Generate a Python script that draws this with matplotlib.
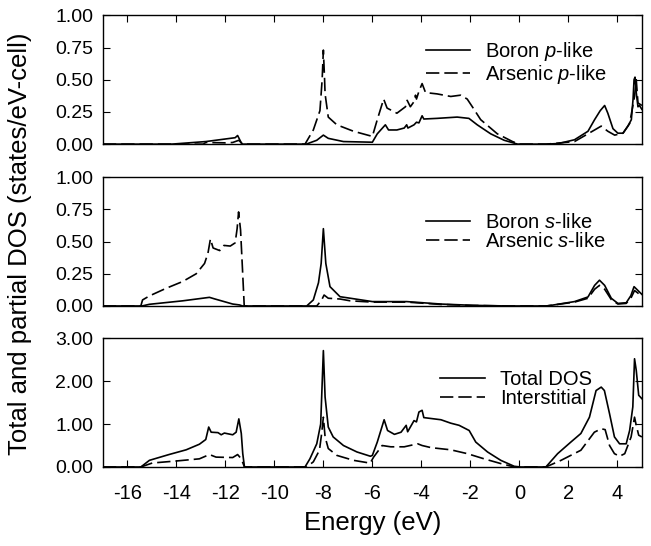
import matplotlib
matplotlib.use('Agg')
import matplotlib.pyplot as plt

plt.rcParams['font.family'] = ['Liberation Sans', 'DejaVu Sans']
plt.rcParams['mathtext.fontset'] = 'custom'
plt.rcParams['mathtext.rm'] = 'Liberation Sans'
plt.rcParams['mathtext.it'] = 'Liberation Sans:italic'

# ---- data (energy in eV, DOS in states/eV-cell) ----
e_bp = [-17, -14.2, -12.8, -12.0, -11.6, -11.5, -11.35, -11.3, -8.7, -8.27, -8.0, -7.8, -7.18,
        -6.0, -5.8, -5.47, -5.34, -5.0, -4.7, -4.6, -4.55, -4.3, -4.2, -4.1, -3.97, -3.9, -3.36,
        -2.54, -2.06, -1.72, -1.17, -0.62, -0.07, 1.1, 1.6, 2.25, 2.8, 3.07, 3.3, 3.48, 3.61,
        3.82, 4.02, 4.23, 4.43, 4.57, 4.64, 4.68, 4.72, 4.77, 4.84, 4.9, 5.0]
boron_p = [0, 0, 0.02, 0.04, 0.05, 0.067, 0.01, 0, 0, 0.03, 0.07, 0.045, 0.02,
           0.015, 0.08, 0.15, 0.11, 0.11, 0.125, 0.15, 0.125, 0.15, 0.17, 0.165, 0.22, 0.195, 0.2,
           0.21, 0.2, 0.15, 0.08, 0.03, 0, 0, 0.005, 0.034, 0.1, 0.19, 0.26, 0.30, 0.24,
           0.12, 0.085, 0.085, 0.14, 0.19, 0.35, 0.5, 0.52, 0.4, 0.29, 0.3, 0.27]

e_asp = [-17, -12.9, -12.8, -12.0, -11.7, -11.45, -11.3, -8.75, -8.41, -8.14, -8.05, -8.0, -7.95,
         -7.93, -7.8, -7.45, -6.77, -6.0, -5.8, -5.54, -5.4, -5.0, -4.65, -4.58, -4.45, -4.3,
         -4.24, -4.2, -4.1, -3.97, -3.83, -3.36, -2.8, -2.4, -2.13, -1.92, -1.58, -0.9, -0.28,
         0.0, 1.1, 2.25, 3.07, 3.34, 3.61, 3.89, 4.23, 4.5, 4.7, 4.77, 4.84, 5.0]
arsenic_p = [0, 0, 0.013, 0.01, 0.013, 0.03, 0, 0, 0.11, 0.26, 0.5, 0.73, 0.5,
             0.39, 0.21, 0.15, 0.10, 0.06, 0.19, 0.35, 0.28, 0.24, 0.29, 0.34, 0.29, 0.33,
             0.38, 0.35, 0.41, 0.47, 0.40, 0.39, 0.37, 0.38, 0.35, 0.29, 0.19, 0.08, 0.02,
             0, 0, 0.02, 0.11, 0.14, 0.10, 0.07, 0.085, 0.16, 0.37, 0.5, 0.32, 0.3]

e_bs = [-17, -15.4, -15.1, -13.74, -12.65, -12.44, -11.7, -11.42, -11.3, -8.68, -8.41, -8.2,
        -8.09, -8.0, -7.9, -7.73, -7.32, -6.9, -6.0, -4.6, -3.2, -1.9, -0.5, 1.1, 1.3, 2.25,
        2.8, 3.07, 3.27, 3.48, 3.75, 4.02, 4.36, 4.55, 4.68, 4.84, 5.0]
boron_s = [0, 0, 0.013, 0.04, 0.067, 0.055, 0.015, 0.008, 0, 0, 0.047, 0.18,
           0.33, 0.6, 0.33, 0.15, 0.072, 0.06, 0.034, 0.034, 0.015, 0.005, 0, 0, 0.005, 0.034,
           0.07, 0.16, 0.2, 0.16, 0.06, 0.02, 0.025, 0.08, 0.15, 0.12, 0.09]

e_ass = [-17, -15.45, -15.38, -15.1, -14.42, -13.74, -13.19, -12.85, -12.71, -12.61, -12.5,
         -12.23, -12.06, -11.8, -11.6, -11.52, -11.46, -11.38, -11.3, -11.23, -8.27, -8.07,
         -7.97, -7.8, -7.32, -6.9, -6.0, -4.6, -3.2, -1.9, -0.5, 1.1, 2.25, 2.8, 3.07, 3.27,
         3.48, 3.75, 4.02, 4.36, 4.55, 4.7, 4.84, 5.0]
arsenic_s = [0, 0, 0.047, 0.078, 0.137, 0.19, 0.25, 0.33, 0.41, 0.52, 0.45,
             0.43, 0.47, 0.465, 0.49, 0.6, 0.73, 0.59, 0.28, 0, 0, 0.047,
             0.085, 0.06, 0.054, 0.04, 0.03, 0.03, 0.012, 0.004, 0, 0, 0.03, 0.06, 0.13, 0.16,
             0.13, 0.05, 0.015, 0.02, 0.06, 0.12, 0.1, 0.07]

e_tot = [-17, -15.45, -15.1, -14.3, -13.6, -13.06, -12.8, -12.68, -12.58, -12.3, -12.17, -12.04,
         -11.7, -11.56, -11.45, -11.35, -11.29, -11.22, -8.75, -8.55, -8.27, -8.11, -8.0, -7.93,
         -7.8, -7.6, -7.18, -6.63, -6.08, -6.0, -5.8, -5.52, -5.38, -5.1, -4.83, -4.62, -4.56,
         -4.3, -4.2, -4.1, -3.97, -3.9, -3.2, -2.8, -2.46, -2.05, -1.78, -1.3, -0.76, -0.21,
         0.06, 1.08, 1.56, 2.1, 2.51, 2.86, 3.13, 3.34, 3.47, 3.68, 3.88, 4.09, 4.36, 4.5,
         4.63, 4.7, 4.77, 4.87, 5.0]
total = [0, 0, 0.155, 0.29, 0.4, 0.53, 0.64, 0.93, 0.81, 0.8, 0.75, 0.79,
         0.75, 0.81, 1.12, 0.78, 0.31, 0, 0, 0.19, 0.54, 1.0, 2.71, 1.63,
         0.93, 0.7, 0.5, 0.35, 0.25, 0.27, 0.58, 1.1, 0.85, 0.76, 0.81, 0.97, 0.82,
         1.08, 1.05, 1.28, 1.32, 1.15, 1.1, 1.02, 0.97, 0.85, 0.58, 0.35, 0.155, 0.016,
         0, 0, 0.31, 0.58, 0.78, 1.16, 1.78, 1.86, 1.78, 1.24, 0.7, 0.54, 0.54, 0.85,
         1.4, 2.52, 2.25, 1.67, 1.59]

e_int = [-17, -15.45, -14.98, -14.0, -13.06, -12.65, -12.38, -11.7, -11.5, -11.35, -11.22,
         -8.68, -8.41, -8.16, -8.07, -8.0, -7.93, -7.8, -7.45, -6.77, -6.09, -5.95, -5.6,
         -5.25, -4.7, -4.15, -3.97, -3.6, -2.8, -2.12, -1.44, -0.76, -0.21, 1.08, 1.7, 2.51,
         3.06, 3.34, 3.5, 3.68, 3.88, 4.09, 4.3, 4.56, 4.7, 4.77, 4.87, 5.0]
interstitial = [0, 0, 0.093, 0.14, 0.19, 0.29, 0.23, 0.22, 0.29, 0.19, 0,
                0, 0.12, 0.39, 0.78, 1.16, 0.7, 0.43, 0.27, 0.155, 0.09, 0.23, 0.5,
                0.47, 0.47, 0.54, 0.5, 0.45, 0.4, 0.31, 0.19, 0.08, 0, 0, 0.155, 0.39,
                0.81, 0.89, 0.87, 0.5, 0.31, 0.25, 0.31, 0.7, 1.16, 0.97, 0.74, 0.7]

xticks = list(range(-16, 5, 2))
yticks_pd = [0, 0.25, 0.5, 0.75, 1.0]
yticks_tot = [0, 1, 2, 3]

fig = plt.figure(figsize=(6.51, 5.46), dpi=100)
left, width, height = 0.158, 0.828, 0.236
ax1 = fig.add_axes([left, 0.736, width, height])
ax2 = fig.add_axes([left, 0.4396, width, height])
ax3 = fig.add_axes([left, 0.1447, width, height])

lw = 1.2
dash = (8, 3)

ax1.plot(e_bp, boron_p, 'k-', lw=lw, label=r'Boron $\mathit{p}$-like')
ax1.plot(e_asp, arsenic_p, 'k--', lw=lw, dashes=dash, label=r'Arsenic $\mathit{p}$-like')
ax2.plot(e_bs, boron_s, 'k-', lw=lw, label=r'Boron $\mathit{s}$-like')
ax2.plot(e_ass, arsenic_s, 'k--', lw=lw, dashes=dash, label=r'Arsenic $\mathit{s}$-like')
ax3.plot(e_tot, total, 'k-', lw=lw, label='Total DOS')
ax3.plot(e_int, interstitial, 'k--', lw=lw, dashes=dash, label='Interstitial')

# legend anchor (right, top) per panel, in axes fractions
leg_pos = {ax1: (0.935, 0.806), ax2: (0.933, 0.72), ax3: (0.907, 0.752)}

for ax in (ax1, ax2, ax3):
    ax.set_xlim(-17, 5)
    ax.set_xticks(xticks)
    for s in ax.spines.values():
        s.set_linewidth(1.0)
    ax.tick_params(axis='y', direction='in', left=True, right=True, length=5,
                   labelsize=14, pad=7)
    ax.legend(loc='upper right', bbox_to_anchor=leg_pos[ax], frameon=False,
              fontsize=14.5, handlelength=2.2, handletextpad=0.75, labelspacing=0.0,
              borderpad=0, borderaxespad=0)

ax1.set_ylim(0, 1)
ax2.set_ylim(0, 1)
ax3.set_ylim(0, 3)
ax1.set_yticks(yticks_pd)
ax2.set_yticks(yticks_pd)
ax3.set_yticks(yticks_tot)
ax1.set_yticklabels(['%.2f' % v for v in yticks_pd])
ax2.set_yticklabels(['%.2f' % v for v in yticks_pd])
ax3.set_yticklabels(['%.2f' % v for v in yticks_tot])

ax1.tick_params(axis='x', direction='in', top=True, bottom=False, labelbottom=False, length=5)
ax2.tick_params(axis='x', top=False, bottom=False, labelbottom=False)
ax3.tick_params(axis='x', direction='in', top=False, bottom=True, length=5,
                labelsize=14.5, pad=12)
ax3.set_xticklabels([str(v) for v in xticks])

ax3.set_xlabel('Energy (eV)', fontsize=18.5, labelpad=6)
fig.text(0.031, 0.553, 'Total and partial DOS (states/eV-cell)', rotation=90,
         ha='center', va='center', fontsize=18.5)

fig.savefig('out.png', dpi=100)
plt.close(fig)
